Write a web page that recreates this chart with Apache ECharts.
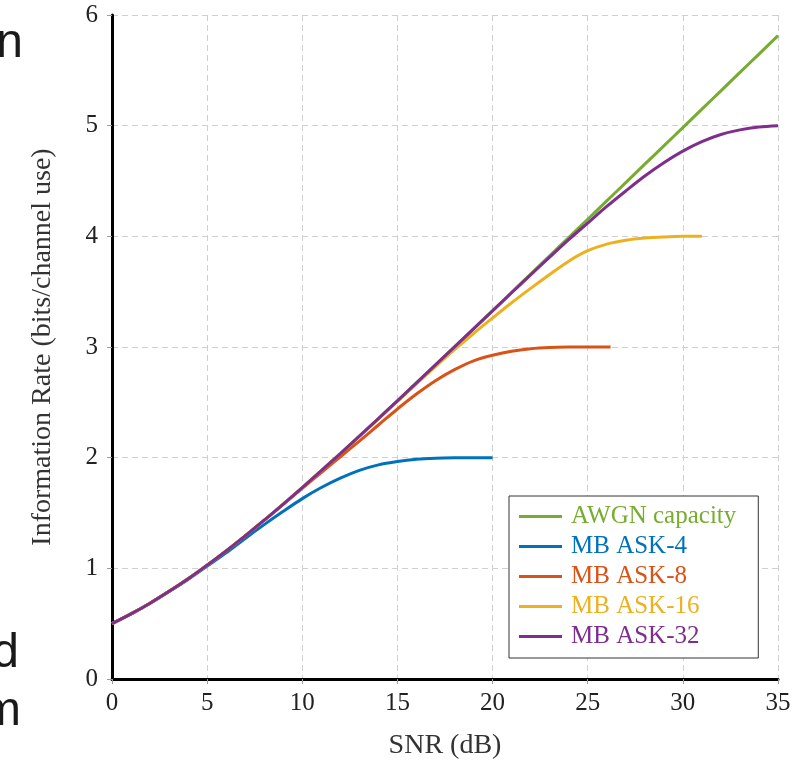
<!DOCTYPE html>
<html>
<head>
<meta charset="utf-8">
<script src="https://cdn.jsdelivr.net/npm/echarts@6/dist/echarts.min.js"></script>
<style>
  html, body { margin: 0; padding: 0; background: #fff; }
  #chart { width: 812px; height: 762px; }
</style>
</head>
<body>
<div id="chart"></div>
<script>
// 信息速率 vs SNR
const seriesNames = ['AWGN capacity', 'MB ASK-4', 'MB ASK-8', 'MB ASK-16', 'MB ASK-32']
const seriesColors = ['#77AC30', '#0072BD', '#D95319', '#EDB120', '#7E2F8E']

// values, [SNR dB, rate]
const awgn = [[0, 0.5], [1, 0.588], [2, 0.685], [3, 0.792], [4, 0.906], [5, 1.029], [6, 1.158], [7, 1.294],
  [8, 1.435], [9, 1.581], [10, 1.730], [11, 1.882], [12, 2.037], [13, 2.194], [14, 2.353], [15, 2.514],
  [16, 2.676], [17, 2.838], [18, 3.001], [19, 3.165], [20, 3.329], [21, 3.494], [22, 3.659], [23, 3.824],
  [24, 3.989], [25, 4.154], [26, 4.320], [27, 4.486], [28, 4.652], [29, 4.817], [30, 4.983], [31, 5.149],
  [32, 5.315], [33, 5.481], [34, 5.647], [35, 5.813]]
const ask4 = [[0, 0.5], [1, 0.588], [2, 0.684], [3, 0.79], [4, 0.9], [5, 1.02], [6, 1.14], [7, 1.27],
  [8, 1.395], [9, 1.515], [10, 1.63], [11, 1.73], [12, 1.815], [13, 1.885], [14, 1.935], [15, 1.965],
  [16, 1.985], [17, 1.995], [18, 1.999], [19, 2.0], [20, 2.0]]
const ask8 = [[0, 0.5], [1, 0.588], [2, 0.685], [3, 0.792], [4, 0.906], [5, 1.029], [6, 1.158], [7, 1.294],
  [8, 1.434], [9, 1.578], [10, 1.722], [11, 1.866], [12, 2.008], [13, 2.15], [14, 2.295], [15, 2.44],
  [16, 2.575], [17, 2.695], [18, 2.795], [19, 2.875], [20, 2.925], [21, 2.962], [22, 2.984], [23, 2.995],
  [24, 2.999], [25, 3.0], [26.2, 3.0]]
const ask16 = [[0, 0.5], [1, 0.588], [2, 0.685], [3, 0.792], [4, 0.906], [5, 1.029], [6, 1.158], [7, 1.294],
  [8, 1.435], [9, 1.581], [10, 1.73], [11, 1.882], [12, 2.036], [13, 2.192], [14, 2.35], [15, 2.508],
  [16, 2.666], [17, 2.823], [18, 2.976], [19, 3.122], [20, 3.262], [21, 3.4], [22, 3.53], [23, 3.655],
  [24, 3.775], [25, 3.87], [26, 3.93], [27, 3.965], [28, 3.985], [29, 3.995], [30, 4.0], [31, 4.0]]
const ask32 = [[0, 0.5], [1, 0.588], [2, 0.685], [3, 0.792], [4, 0.906], [5, 1.029], [6, 1.158], [7, 1.294],
  [8, 1.435], [9, 1.581], [10, 1.73], [11, 1.882], [12, 2.037], [13, 2.194], [14, 2.353], [15, 2.514],
  [16, 2.676], [17, 2.838], [18, 3.001], [19, 3.164], [20, 3.327], [21, 3.49], [22, 3.652], [23, 3.812],
  [24, 3.97], [25, 4.12], [26, 4.27], [27, 4.41], [28, 4.545], [29, 4.665], [30, 4.77], [31, 4.855],
  [32, 4.92], [33, 4.962], [34, 4.988], [35, 5.0]]
const seriesData = [awgn, ask4, ask8, ask16, ask32]

const xTicks = [0, 5, 10, 15, 20, 25, 30, 35]
const yTicks = [0, 1, 2, 3, 4, 5, 6]

// 左边被裁掉的文字残片 [字, 右边x, 基线y]
const strayText = [['n', 23, 52], ['d', 19, 662], ['m', 21, 720]]

const serif = '"Liberation Serif", "DejaVu Serif", serif'
const chart = echarts.init(document.getElementById('chart'))

const option = {
  backgroundColor: '#fff',
  animation: false,
  grid: { left: 112, right: 34, top: 15, bottom: 83, containLabel: false, outerBoundsMode: 'none' },
  legend: {
    orient: 'vertical',
    left: 509,
    top: 496,
    padding: [8, 22, 9, 10],
    itemGap: 5,
    itemWidth: 43,
    itemHeight: 25,
    backgroundColor: '#fff',
    borderColor: '#333',
    borderWidth: 1,
    icon: 'path://M0,0 L43,0 L43,3 L0,3 Z',
    data: seriesNames.map((n, i) => ({ name: n, textStyle: { color: seriesColors[i] } })),
    textStyle: { fontFamily: serif, fontSize: 25, padding: [0, 0, 0, 4] }
  },
  xAxis: {
    type: 'value',
    min: 0,
    max: 35,
    interval: 5,
    name: 'SNR (dB)',
    nameLocation: 'middle',
    nameGap: 53,
    nameTextStyle: { fontFamily: serif, fontSize: 28, color: '#333' },
    axisLine: { show: true, onZero: false, lineStyle: { color: '#000', width: 3 } },
    axisTick: { show: true, length: 5, lineStyle: { color: '#999', width: 1 } },
    axisLabel: {
      fontFamily: serif, fontSize: 25, color: '#222', margin: 12,
      formatter: v => xTicks.includes(v) ? String(v) : ''
    },
    splitLine: { show: true, lineStyle: { color: '#d0d0d0', type: [6, 4], width: 1 } }
  },
  yAxis: {
    type: 'value',
    min: 0,
    max: 6,
    interval: 1,
    name: 'Information Rate (bits/channel use)',
    nameLocation: 'middle',
    nameGap: 55,
    nameRotate: 90,
    nameTextStyle: { fontFamily: serif, fontSize: 28, color: '#333' },
    axisLine: { show: true, lineStyle: { color: '#000', width: 3 } },
    axisTick: { show: true, length: 5, lineStyle: { color: '#999', width: 1 } },
    axisLabel: {
      fontFamily: serif, fontSize: 25, color: '#222', margin: 14,
      formatter: v => yTicks.includes(v) ? String(v) : ''
    },
    splitLine: { show: true, lineStyle: { color: '#d0d0d0', type: [6, 4], width: 1 } }
  },
  series: seriesNames.map((n, i) => ({
    name: n,
    type: 'line',
    data: seriesData[i],
    smooth: 0.3,
    symbol: 'none',
    z: 2 + i,
    lineStyle: { color: seriesColors[i], width: 3 },
    itemStyle: { color: seriesColors[i] }
  })),
  graphic: strayText.map(t => ({
    type: 'text',
    x: t[1],
    y: t[2] - 8,
    style: {
      text: t[0],
      align: 'right',
      verticalAlign: 'middle',
      font: '48px "Liberation Sans", Arial, sans-serif',
      fill: '#1a1a1a'
    }
  }))
}

chart.setOption(option)
</script>
</body>
</html>
